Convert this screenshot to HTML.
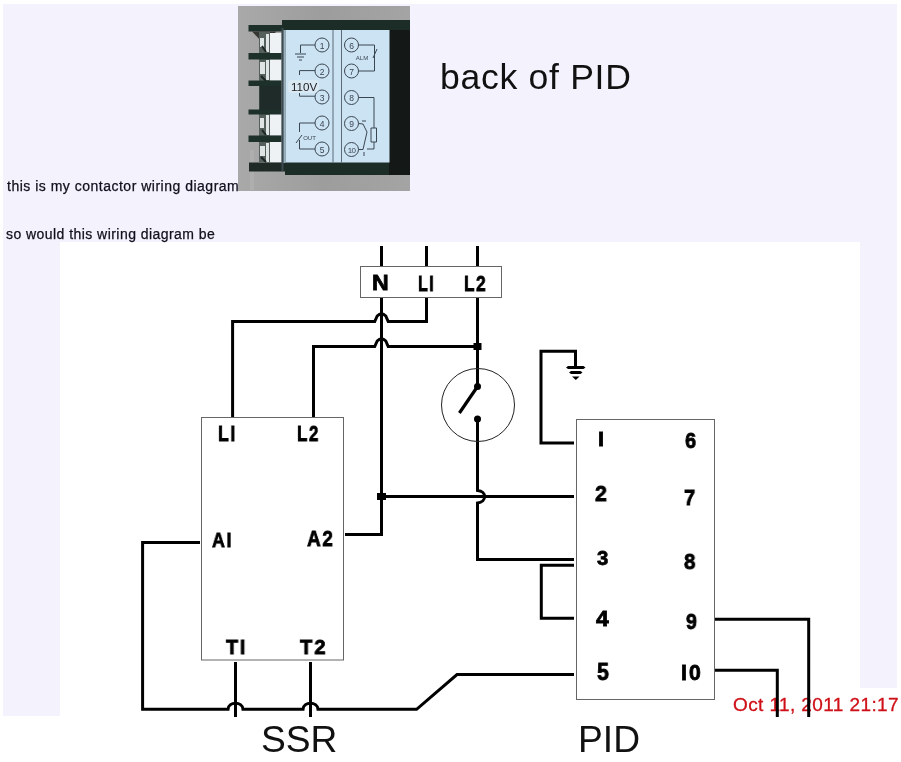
<!DOCTYPE html>
<html><head><meta charset="utf-8"><style>
html,body{margin:0;padding:0;background:#fff;width:901px;height:762px;overflow:hidden;position:relative}
div{position:absolute}
#lav{left:3px;top:4px;width:894px;height:712px;background:#f4f3fd}
#dia{left:60px;top:242px;width:800px;height:475px;background:#fff}
.t{font-family:"Liberation Sans",sans-serif;color:#10101c;-webkit-text-stroke:0.25px #10101c;font-size:14px;letter-spacing:0.5px;white-space:nowrap;line-height:1;will-change:transform}
.big{font-family:"Liberation Sans",sans-serif;color:#111;font-size:37.2px;white-space:nowrap;line-height:1;will-change:transform}
.lb{font-family:"Liberation Sans",sans-serif;font-weight:bold;color:#000;white-space:nowrap;line-height:1;transform-origin:0 0;-webkit-text-stroke:0.8px #000;will-change:transform}
#ts{font-family:"Liberation Sans",sans-serif;color:#cf1018;-webkit-text-stroke:0.3px #cf1018;font-size:19px;letter-spacing:0.4px;white-space:nowrap;line-height:1;will-change:transform}
svg{position:absolute;left:0;top:0}
</style></head><body>
<div id="lav"></div>
<div id="dia"></div>
<div style="left:725px;top:688px;width:176px;height:29px;background:#fff"></div>
<div id="ts" style="left:733px;top:695px">Oct 11, 2011 21:17</div>
<svg style="left:238px;top:6px;will-change:transform" width="172" height="185" viewBox="238 6 172 185">
<defs>
<linearGradient id="gbg" x1="0" y1="0" x2="1" y2="0">
<stop offset="0" stop-color="#a9a9a9"/><stop offset="0.5" stop-color="#9d9d9d"/><stop offset="1" stop-color="#a4a4a4"/>
</linearGradient>
</defs>
<rect x="238" y="6" width="172" height="185" fill="url(#gbg)"/>
<rect x="250" y="150" width="4" height="40" fill="#b8b8b8" opacity="0.4"/>
<!-- housing dark -->
<path d="M282 20H410V175H285V171H282Z" fill="#1c2c26"/>
<rect x="389" y="30" width="21" height="145" fill="#141816"/>
<!-- top bracket -->
<rect x="248.5" y="25" width="34" height="6.5" fill="#1e302a"/>
<path d="M252 31.5H276L270 42H262Z" fill="#2a2a26" opacity="0.9"/>
<!-- terminal metal blocks -->
<rect x="270" y="33" width="11.5" height="20" fill="#eef2f4"/>
<rect x="270" y="59.5" width="11.5" height="21" fill="#eef2f4"/>
<rect x="270" y="114" width="11.5" height="21.5" fill="#eef2f4"/>
<rect x="270" y="142" width="11.5" height="20.5" fill="#eef2f4"/>
<!-- screws column -->
<rect x="259" y="32" width="11" height="130" fill="#55605c"/>
<path d="M260 38h4v9h-4zM266 34h3v18h-3zM260 62h5v12h-5zM266 60h3v20h-3zM260 118h4v10h-4zM266 115h3v20h-3zM260 146h5v10h-5zM266 143h3v19h-3z" fill="#dfe4e4"/>
<path d="M262 46l4 6M261 76l5 5M262 130l4 5M261 157l5 5" stroke="#1c2622" stroke-width="2"/>
<!-- dark third terminal block -->
<rect x="259.5" y="86" width="22" height="24" fill="#1f2b28"/>
<!-- terminal bars -->
<rect x="248.5" y="53" width="33" height="6.5" fill="#1e302a"/>
<rect x="248.5" y="80.5" width="33" height="5.5" fill="#1e302a"/>
<rect x="248.5" y="109.5" width="33" height="5" fill="#1e302a"/>
<rect x="248.5" y="135.5" width="33" height="6.5" fill="#1e302a"/>
<rect x="249" y="162.5" width="36" height="9" fill="#1f2a26"/>
<!-- housing edge -->
<rect x="281.5" y="28" width="2" height="143" fill="#3c4a52"/>
<rect x="283.5" y="30" width="2" height="133" fill="#9ab0bc"/>
<!-- label panel -->
<rect x="285.5" y="30" width="104" height="132.5" fill="#cce3f4"/>
<g fill="none" stroke="#3a4650" stroke-width="1">
<path d="M333 30V162.5M341.5 30V162.5" stroke="#5a6a76"/>
<circle cx="322" cy="45" r="7"/><circle cx="322" cy="71" r="7"/><circle cx="322" cy="97" r="7"/><circle cx="322" cy="123" r="7"/><circle cx="322" cy="149" r="7"/>
<circle cx="351.5" cy="45" r="7"/><circle cx="351.5" cy="71" r="7"/><circle cx="351.5" cy="97.5" r="7"/><circle cx="351.5" cy="123.5" r="7"/><circle cx="351.5" cy="149.5" r="7"/>
<path d="M315 45H300.5V53M295 54H306M297 57H304M299 60H302"/>
<path d="M315 70.6H299.5V75M315 96.2H299.5V93"/>
<path d="M315 123H299.5V132M296 143L302 135M299.5 140V149H315"/>
<path d="M358.5 45H374.5V71H358.5M377 49L373 58"/>
<path d="M358.5 97.5H374V128M371 128H376.5V142H371ZM374 142V149H367M358.5 123.5L363 124L367 132L363 149.5H358.5M362 121H366M364 152V156"/>
</g>
<g font-family="Liberation Sans, sans-serif" fill="#3a4450" text-anchor="middle">
<text x="322" y="48.5" font-size="8.5">1</text><text x="322" y="74.5" font-size="8.5">2</text><text x="322" y="100.5" font-size="8.5">3</text><text x="322" y="126.5" font-size="8.5">4</text><text x="322" y="152.5" font-size="8.5">5</text>
<text x="351.5" y="48.5" font-size="8.5">6</text><text x="351.5" y="74.5" font-size="8.5">7</text><text x="351.5" y="101.0" font-size="8.5">8</text><text x="351.5" y="127.0" font-size="8.5">9</text><text x="351.5" y="153" font-size="8" letter-spacing="-0.6">10</text>
<text x="362" y="60" font-size="6">ALM</text>
<text x="309.5" y="139.5" font-size="6">OUT</text>
</g>
<rect x="288" y="80" width="31" height="13" rx="4" fill="#eef2f6" opacity="0.4"/>
<text x="291" y="90.8" font-family="Liberation Sans, sans-serif" font-size="11.6" fill="#1e1a1e" letter-spacing="0">110V</text>
</svg>

<div class="t" id="t1" style="left:7px;top:179px">this is my contactor wiring diagram</div>
<div class="t" id="t2" style="left:5.5px;top:227px;letter-spacing:0.45px">so would this wiring diagram be</div>
<div class="big" id="bop" style="left:439.8px;top:60.4px;font-size:35.6px;letter-spacing:0.7px">back of PID</div>
<div class="big" id="ssr" style="left:261px;top:721px">SSR</div>
<div class="big" id="pid" style="left:578px;top:721px">PID</div>
<svg width="901" height="762" viewBox="0 0 901 762">
<g fill="none" stroke="#000" stroke-width="3" stroke-linejoin="miter" stroke-linecap="butt">
<path d="M381.5 246V266M426.5 246V266M477.5 246V266"/>
<path d="M381.5 298V534.5H345"/>
<path d="M426.5 298V321.5H388.2L385.8 316Q381.5 311.5 377.2 316L374.7 321.5H232.6V417"/>
<path d="M477.5 298V346.5H388.2L385.8 341Q381.5 336.5 377.2 341L374.7 346.5H313.5V417"/>
<path d="M477.5 346V386"/>
<path d="M477.5 386.5L459.4 413" stroke-width="3.2"/>
<path d="M477.5 419V490.4C487 491 487 502 477.5 503V559.5H574"/>
<path d="M381.5 496.4H574"/>
<path d="M574 565.2H541.3V618.3H574"/>
<path d="M574 443.1H541V351.3H575.5V367"/>
<path d="M200 542.6H142.6V709.3H228C228.5 701.3 242.5 701.3 243 709.3H303C303.5 701.3 317.5 701.3 318 709.3H416.6L457 674.6H574"/>
<path d="M235.5 662V717M310.5 662V717"/>
<path d="M714.5 619.2H808.7V717M714.5 670.3H777.3V717"/>
</g>
<g fill="none" stroke="#666" stroke-width="1">
<rect x="360.5" y="266.5" width="141" height="31"/>
<rect x="201.5" y="417.5" width="142" height="242.5"/>
<rect x="576.5" y="419.5" width="138" height="280"/>
</g>
<circle cx="478" cy="405" r="36.5" fill="none" stroke="#222" stroke-width="1"/>
<g fill="#000">
<rect x="473.5" y="343" width="8" height="7"/>
<rect x="377" y="493" width="9" height="7"/>
<circle cx="477.5" cy="386.5" r="3.5"/>
<circle cx="477.5" cy="419" r="3.5"/>
</g>
<g fill="#000">
<path d="M566 367.5L568 366H583.5L585.5 367.5L583.5 369H568Z"/>
<path d="M569 372.5L571 371H580.5L582.5 372.5L580.5 374H571Z"/>
<path d="M572 376.5H579.5L575.8 380Z"/>
</g>
</svg>
<div class="lb" style="left:371.79px;top:272.15px;font-size:22.44px;letter-spacing:0.0px;transform:scaleX(1.031)">N</div>
<div class="lb" style="left:418.45px;top:272.50px;font-size:21.87px;letter-spacing:2.0px;transform:scaleX(0.735)">LI</div>
<div class="lb" style="left:463.50px;top:272.50px;font-size:22.42px;letter-spacing:2.0px;transform:scaleX(0.767)">L2</div>
<div class="lb" style="left:218.29px;top:423.15px;font-size:22.56px;letter-spacing:2.0px;transform:scaleX(0.785)">LI</div>
<div class="lb" style="left:296.63px;top:423.85px;font-size:21.24px;letter-spacing:2.0px;transform:scaleX(0.796)">L2</div>
<div class="lb" style="left:211.74px;top:530.47px;font-size:20.94px;letter-spacing:2.0px;transform:scaleX(0.850)">AI</div>
<div class="lb" style="left:306.51px;top:528.15px;font-size:22.55px;letter-spacing:2.0px;transform:scaleX(0.841)">A2</div>
<div class="lb" style="left:225.70px;top:636.61px;font-size:20.48px;letter-spacing:2.0px;transform:scaleX(0.959)">TI</div>
<div class="lb" style="left:300.13px;top:635.50px;font-size:21.08px;letter-spacing:2.0px;transform:scaleX(0.957)">T2</div>
<div class="lb" style="left:597.51px;top:428.85px;font-size:20.96px;letter-spacing:0.0px;transform:scaleX(1.040)">I</div>
<div class="lb" style="left:684.83px;top:430.06px;font-size:22.33px;letter-spacing:0.0px;transform:scaleX(0.890)">6</div>
<div class="lb" style="left:595.09px;top:483.38px;font-size:22.63px;letter-spacing:0.0px;transform:scaleX(0.944)">2</div>
<div class="lb" style="left:683.63px;top:485.70px;font-size:22.88px;letter-spacing:0.0px;transform:scaleX(0.884)">7</div>
<div class="lb" style="left:596.64px;top:548.18px;font-size:20.52px;letter-spacing:0.0px;transform:scaleX(0.985)">3</div>
<div class="lb" style="left:683.92px;top:550.51px;font-size:21.89px;letter-spacing:0.0px;transform:scaleX(0.938)">8</div>
<div class="lb" style="left:595.64px;top:607.52px;font-size:22.58px;letter-spacing:0.0px;transform:scaleX(1.015)">4</div>
<div class="lb" style="left:685.86px;top:611.29px;font-size:21.16px;letter-spacing:0.0px;transform:scaleX(0.927)">9</div>
<div class="lb" style="left:596.86px;top:660.88px;font-size:23.18px;letter-spacing:0.0px;transform:scaleX(0.928)">5</div>
<div class="lb" style="left:681.34px;top:662.64px;font-size:21.24px;letter-spacing:2.0px;transform:scaleX(0.993)">I0</div>

</body></html>
